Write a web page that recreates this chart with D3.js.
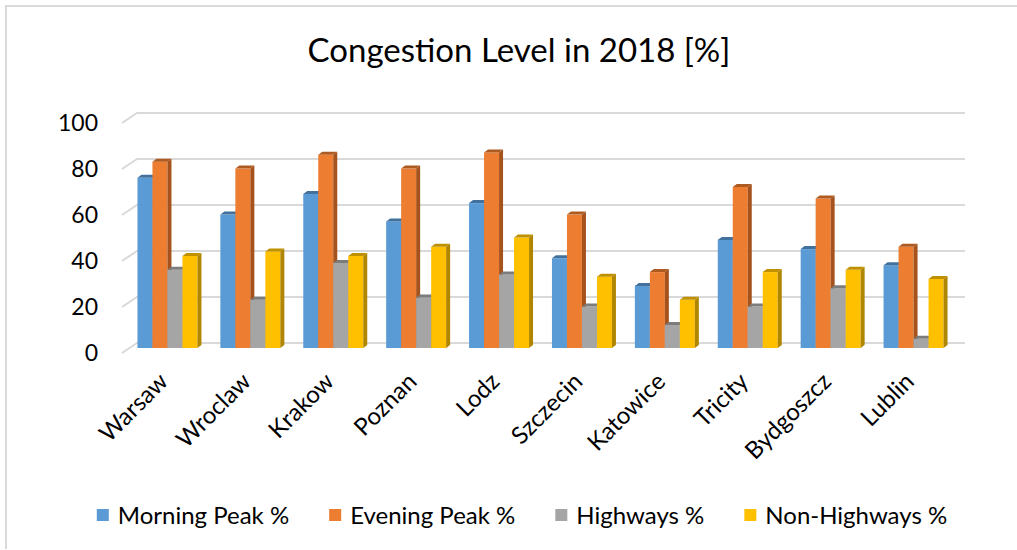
<!DOCTYPE html>
<html>
<head>
<meta charset="utf-8">
<script src="https://cdn.jsdelivr.net/npm/d3@7"></script>
<style>
  body { margin: 0; background: #fff; }
  text { font-family: Lato, "Open Sans", sans-serif; fill: #000; }
</style>
</head>
<body>
<script>
// data
var cities = ["Warsaw", "Wroclaw", "Krakow", "Poznan", "Lodz", "Szczecin", "Katowice", "Tricity", "Bydgoszcz", "Lublin"];
var seriesNames = ["Morning Peak %", "Evening Peak %", "Highways %", "Non-Highways %"];
var morningPeak = [74, 58, 67, 55, 63, 39, 27, 47, 43, 36];
var eveningPeak = [81, 78, 84, 78, 85, 58, 33, 70, 65, 44];
var highways    = [34, 21, 37, 22, 32, 18, 10, 18, 26, 4];
var nonHighways = [40, 42, 40, 44, 48, 31, 21, 33, 34, 30];
var yTicks = [0, 20, 40, 60, 80, 100];

var seriesValues = [morningPeak, eveningPeak, highways, nonHighways];
var frontColor = ["#5b9bd5", "#ed7d31", "#a5a5a5", "#ffc000"];
var topColor   = ["#41719c", "#ae5a21", "#7c7c7c", "#bf9000"];
var sideColor  = ["#41719c", "#a5521c", "#7c7c7c", "#b08600"];

var width = 1017, height = 550;
var svg = d3.select("body").append("svg")
    .attr("width", width)
    .attr("height", height);

svg.append("rect").attr("width", width).attr("height", height).attr("fill", "#fff");

// chart border (top + left visible)
svg.append("path")
    .attr("d", "M6,549V6H1017")
    .attr("fill", "none")
    .attr("stroke", "#d9d9d9")
    .attr("stroke-width", 2);

// title
svg.append("text")
    .attr("x", 519)
    .attr("y", 62)
    .attr("text-anchor", "middle")
    .style("font-size", "33px")
    .text("Congestion Level in 2018 [%]");

// scales
var yBack = d3.scaleLinear().domain([0, 100]).range([343, 113]);   // back wall
var yFront = d3.scaleLinear().domain([0, 100]).range([348, 118]);  // bar front faces
var wallDx = 15, wallDy = 10;   // floor depth
var depthX = 4, depthY = 3;     // bar depth

var x0 = d3.scaleBand().domain(cities).range([126, 955])
    .paddingInner(0.2764).paddingOuter(0.1382);
var x1 = d3.scaleBand().domain(seriesNames).range([0, x0.bandwidth()]);

// gridlines
var grid = svg.append("g");
grid.selectAll("path")
  .data(yTicks)
  .enter().append("path")
    .attr("d", function (d) {
        var yb = yBack(d);
        return "M" + (137 - wallDx) + "," + (yb + wallDy) + "L137," + yb + "L965," + yb;
    })
    .attr("fill", "none")
    .attr("stroke", "#d9d9d9")
    .attr("stroke-width", 2);

grid.selectAll("text")
  .data(yTicks)
  .enter().append("text")
    .attr("x", 98)
    .attr("y", function (d) { return yBack(d) + wallDy; })
    .attr("dy", "0.35em")
    .attr("text-anchor", "end")
    .style("font-size", "23px")
    .text(function (d) { return d; });

// bars
var groups = svg.append("g").selectAll("g")
  .data(cities)
  .enter().append("g")
    .attr("transform", function (d) { return "translate(" + x0(d) + ",0)"; });

groups.each(function (city, ci) {
    var g = d3.select(this);
    seriesNames.forEach(function (s, si) {
        var v = seriesValues[si][ci];
        var x = x1(s), w = x1.bandwidth();
        var yt = yFront(v), yb = yFront(0);
        g.append("rect")
            .attr("x", x).attr("y", yt)
            .attr("width", w).attr("height", yb - yt)
            .attr("fill", frontColor[si]);
        g.append("path")
            .attr("d", "M" + x + "," + yt + "L" + (x + depthX) + "," + (yt - depthY) +
                       "L" + (x + w + depthX) + "," + (yt - depthY) + "L" + (x + w) + "," + yt + "Z")
            .attr("fill", topColor[si]);
        g.append("path")
            .attr("d", "M" + (x + w) + "," + yt + "L" + (x + w + depthX) + "," + (yt - depthY) +
                       "L" + (x + w + depthX) + "," + (yb - depthY) + "L" + (x + w) + "," + yb + "Z")
            .attr("fill", sideColor[si]);
    });
});

// category labels
svg.append("g").selectAll("text")
  .data(cities)
  .enter().append("text")
    .attr("transform", function (d) {
        return "translate(" + (x0(d) + x0.bandwidth() / 2 + 2) + ",383) rotate(-45)";
    })
    .attr("text-anchor", "end")
    .style("font-size", "24px")
    .text(function (d) { return d; });

// legend
var legend = svg.append("g");
var items = legend.selectAll("g")
  .data(seriesNames)
  .enter().append("g");
items.append("rect")
    .attr("width", 12).attr("height", 12)
    .attr("y", -7)
    .attr("fill", function (d, i) { return frontColor[i]; });
items.append("text")
    .attr("x", 21)
    .attr("dy", "0.35em")
    .style("font-size", "24px")
    .text(function (d) { return d; });

var lx = 0;
items.each(function () {
    var bw = this.getBBox().width;
    d3.select(this).attr("transform", "translate(" + lx + ",0)");
    lx += bw + 40;
});
lx -= 40;
legend.attr("transform", "translate(" + (522 - lx / 2) + ",516)");
</script>
</body>
</html>
